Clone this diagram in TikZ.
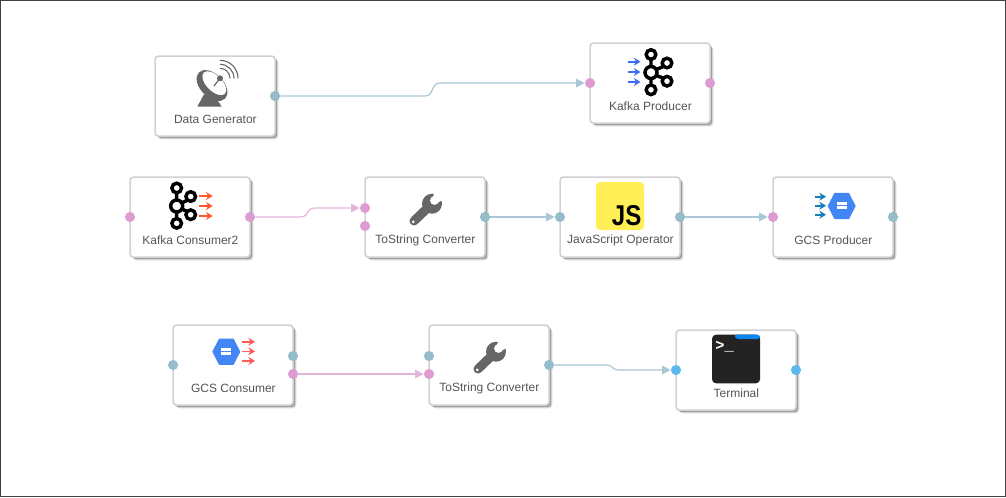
\documentclass[tikz,border=0pt]{standalone}
\usepackage{fontspec}
\setmainfont{Liberation Sans}
\newfontfamily\monofam{Liberation Mono}
\usetikzlibrary{arrows.meta,calc,shadows,shapes.geometric}
\definecolor{pinkport}{HTML}{DD9BD2}
\definecolor{tealport}{HTML}{95BCCB}
\definecolor{blueport}{HTML}{5BB9EC}
\definecolor{pinkline}{HTML}{E4B5DB}
\definecolor{tealline}{HTML}{A9C7D5}
\definecolor{icongray}{HTML}{666666}
\definecolor{labelgray}{HTML}{555555}
\definecolor{kafkablue}{HTML}{3D6EF5}
\definecolor{kafkaorange}{HTML}{FF5A2B}
\definecolor{gcsblue}{HTML}{4285F4}
\definecolor{gcsarrow}{HTML}{0F7FBF}
\definecolor{gcsred}{HTML}{FF5A5A}
\definecolor{jsyellow}{HTML}{FFEE55}
\definecolor{termdark}{HTML}{232323}
\definecolor{termblue}{HTML}{0A84EE}
\tikzset{
  blockbox/.style={draw=black!18,line width=1.2pt,fill=white,rounded corners=2.5pt,
    minimum width=90pt,minimum height=60pt,inner sep=0pt,anchor=north west,
    general shadow={shadow xshift=2.4pt,shadow yshift=-2.4pt,fill=black!14},
    general shadow={shadow xshift=1.5pt,shadow yshift=-1.5pt,fill=black!38}},
  blocklabel/.style={font=\fontsize{9}{11}\selectfont,text=labelgray,inner sep=0pt},
  portdot/.style={circle,inner sep=0pt,minimum size=7.6pt,draw=none},
  pinkp/.style={portdot,fill=pinkport},
  tealp/.style={portdot,fill=tealport},
  bluep/.style={portdot,fill=blueport},
  flowline/.style={line width=0.9pt,-{Triangle[length=6.5pt,width=6.5pt]}},
  minitip/.style={line width=1.2pt,-{Stealth[length=5pt,width=6pt]}},
  kafkaring/.style={line width=2.6pt,draw=black},
}
\newcommand{\placeblock}[4]{%
  \node[blockbox] (#1) at (#2-0.7,#3-0.7) {};
  \node[blocklabel] (#1-label) at (#2+60.4,#3+63) {#4};}
\newcommand{\kafkaicon}[3]{%
  \begin{scope}[shift={(#1,#2)}]
    \draw[kafkaring] (0,-13) -- (0,13) (4,-2.5) -- (#3,-7.5) (4,2.5) -- (#3,7);
    \draw[kafkaring,fill=white] (0,0) circle (6);
    \draw[kafkaring,fill=white] (0,-18) circle (4.8);
    \draw[kafkaring,fill=white] (0,17.3) circle (4.8);
    \draw[kafkaring,fill=white] (#3,-9.5) circle (4.8);
    \draw[kafkaring,fill=white] (#3,8.7) circle (4.8);
  \end{scope}}
\newcommand{\threearrows}[5]{%
  \foreach \yy in {#3,#4,#5} \draw[minitip,draw=\arrowcol,\arrowcol] (#1,\yy) -- (#2,\yy);}
\newcommand{\wrenchicon}{%
  \draw[icongray,line width=6.8pt,line cap=round] (67,26.7) -- (49,44);
  \fill[icongray] (67,26.7) circle (10);
  \fill[white] (69.5,23.5) circle (4.4);
  \fill[white] (67.2,21) -- (71,13) -- (82,20) -- (73.2,25.5) -- cycle;
  \fill[white] (48.3,44.8) circle (1.5);}
\newcommand{\hexicon}[2]{%
  \fill[gcsblue] (#1-14,#2) -- (#1-7.2,#2-13.2) -- (#1+7.2,#2-13.2) -- (#1+14,#2) -- (#1+7.2,#2+13.2) -- (#1-7.2,#2+13.2) -- cycle;
  \fill[white] (#1-5,#2-3.6) rectangle (#1+5,#2-1.2);
  \fill[white] (#1-5,#2+0.4) rectangle (#1+5,#2+2.8);}
\newcommand{\stepflow}[3]{%
  \draw[flowline,draw=#3,#3] let \p1=(#1.east), \p2=(#2.west), \n1={(\x1+\x2)/2}, \n2={(\y1+\y2)/2} in
    (\p1) -- (\n1-6pt,\y1) .. controls (\n1-0.5pt,\y1) and (\n1-0.5pt,\n2) .. (\n1,\n2)
    .. controls (\n1+0.5pt,\n2) and (\n1+0.5pt,\y2) .. (\n1+6pt,\y2) -- (\p2);}
\begin{document}
\begin{tikzpicture}[x=0.75pt,y=-0.75pt]
\useasboundingbox (0,0) rectangle (1006,497);
\fill[white] (0,0) rectangle (1006,497);
\draw[black!75,line width=0.75pt] (0.5,0.5) rectangle (1005.5,496.5);

\placeblock{datagen}{155}{56}{Data Generator}
\placeblock{kafkaprod}{590}{43}{Kafka Producer}
\placeblock{kafkacons}{130}{177}{Kafka Consumer2}
\placeblock{tostringa}{365}{177}{ToString Converter}
\placeblock{jsop}{560}{177}{JavaScript Operator}
\placeblock{gcsprod}{773}{177}{GCS Producer}
\placeblock{gcscons}{173}{325}{GCS Consumer}
\placeblock{tostringb}{429}{325}{ToString Converter}
\placeblock{terminal}{676}{330}{Terminal}

% Data Generator icon
\begin{scope}[shift={(155,56)}]
  \fill[icongray] (42.3,50.7) -- (49,38.3) -- (62.3,44) -- (66.7,50.7) -- cycle;
  \fill[icongray,rotate around={-45:(57,29.5)}] (57,29.5) ellipse (18.5 and 11.5);
  \fill[white,rotate around={-45:(59.3,27.2)}] (59.3,27.2) ellipse (15 and 7.8);
  \draw[icongray,line width=0.9pt] (65,22.3) -- (59,30);
  \fill[icongray] (65,22.3) circle (3);
  \draw[icongray,line width=0.8pt] (65,12.3) arc[start angle=-90,end angle=0,radius=10];
  \draw[icongray,line width=0.8pt] (65,8.3) arc[start angle=-90,end angle=0,radius=14];
  \draw[icongray,line width=0.8pt] (65,4.3) arc[start angle=-90,end angle=0,radius=18];
\end{scope}

% Kafka Producer icon
\begin{scope}[shift={(590,43)}]
  \kafkaicon{61}{29.5}{16}
  \def\arrowcol{kafkablue}
  \threearrows{37.5}{50.5}{18.7}{29}{39}
\end{scope}

% Kafka Consumer icon
\begin{scope}[shift={(130,177)}]
  \kafkaicon{46.7}{29}{14}
  \def\arrowcol{kafkaorange}
  \threearrows{69}{82.7}{19}{29}{39}
\end{scope}

% Wrench icons
\begin{scope}[shift={(365,177)}] \wrenchicon \end{scope}
\begin{scope}[shift={(429,325)}] \wrenchicon \end{scope}

% JS icon
\begin{scope}[shift={(560,177)}]
  \fill[jsyellow,rounded corners=3pt] (36,5) rectangle (84,53);
  \node[font=\bfseries\fontsize{21.5}{22}\selectfont,text=black,inner sep=0pt,transform shape,xscale=0.84] (jstext) at (66.7,38.5) {JS};
\end{scope}

% GCS Producer icon
\begin{scope}[shift={(773,177)}]
  \hexicon{68.7}{29}
  \def\arrowcol{gcsarrow}
  \threearrows{42}{53}{19.7}{28.7}{37.7}
\end{scope}

% GCS Consumer icon
\begin{scope}[shift={(173,325)}]
  \hexicon{53.3}{26.7}
  \def\arrowcol{gcsred}
  \threearrows{69}{82}{16.7}{26.3}{36}
\end{scope}

% Terminal icon
\begin{scope}[shift={(676,330)}]
  \fill[termdark,rounded corners=3pt] (36,4.7) rectangle (84,53.3);
  \fill[termblue,rounded corners=2pt] (58,4.7) -- (84,4.7) -- (84,9) -- (60,9) -- cycle;
  \node[font=\monofam\bfseries\fontsize{11.5}{11.5}\selectfont,text=white,inner sep=0pt] (termprompt) at (48.5,17) {>\_};
\end{scope}

% Ports
\node[tealp] (dgout) at (275,96) {};
\node[pinkp] (kpin) at (590,83) {};
\node[pinkp] (kpout) at (710,83) {};
\node[pinkp] (kcin) at (130,217) {};
\node[pinkp] (kcout) at (250,217) {};
\node[pinkp] (tsain) at (365,208) {};
\node[pinkp] (tsainb) at (365,226) {};
\node[tealp] (tsaout) at (485,217) {};
\node[tealp] (jsin) at (560,217) {};
\node[tealp] (jsout) at (680,217) {};
\node[pinkp] (gpin) at (773,217) {};
\node[tealp] (gpout) at (893,217) {};
\node[tealp] (gcin) at (173,365) {};
\node[tealp] (gcouta) at (293,356) {};
\node[pinkp] (gcoutb) at (293,374) {};
\node[tealp] (tsbina) at (429,356) {};
\node[pinkp] (tsbinb) at (429,374) {};
\node[tealp] (tsbout) at (549,365) {};
\node[bluep] (termin) at (676,370) {};
\node[bluep] (termout) at (796,370) {};

% Connectors
\stepflow{dgout}{kpin}{tealline}
\stepflow{kcout}{tsain}{pinkline}
\draw[flowline,draw=tealline,tealline] (tsaout) -- (jsin);
\draw[flowline,draw=tealline,tealline] (jsout) -- (gpin);
\draw[flowline,draw=pinkline,pinkline] (gcoutb) -- (tsbinb);
\stepflow{tsbout}{termin}{tealline}
\end{tikzpicture}
\end{document}
